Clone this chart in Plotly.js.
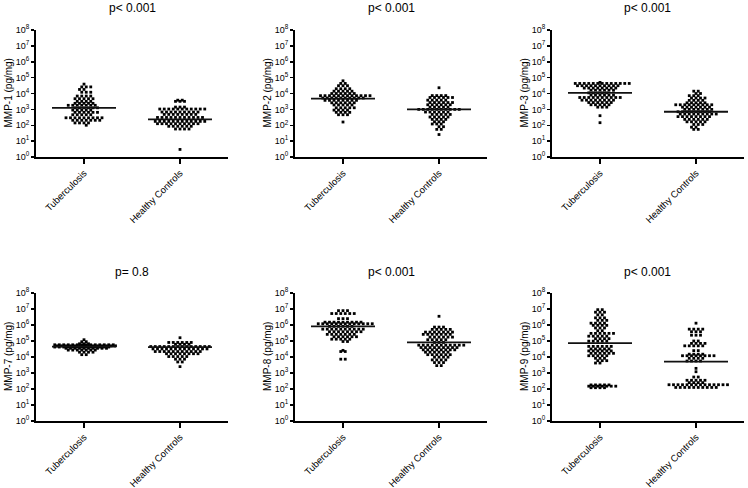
<!DOCTYPE html>
<html><head><meta charset="utf-8">
<script src="https://cdn.plot.ly/plotly-3.0.1.min.js"></script>
<style>html,body{margin:0;padding:0;background:#fff}</style>
</head><body><div id="chart" style="width:748px;height:488px"></div>
<script>
const groups = ["Tuberculosis", "Healthy Controls"];
const pTitles = ["p< 0.001", "p< 0.001", "p< 0.001", "p= 0.8", "p< 0.001", "p< 0.001"];
const yLabels = ["MMP-1 (pg/mg)", "MMP-2 (pg/mg)", "MMP-3 (pg/mg)", "MMP-7 (pg/mg)", "MMP-8 (pg/mg)", "MMP-9 (pg/mg)"];
const yTickVals = [1, 10, 100, 1000, 10000, 100000, 1000000, 10000000, 100000000];
const yTickText = ["10<sup>0</sup>", "10<sup>1</sup>", "10<sup>2</sup>", "10<sup>3</sup>", "10<sup>4</sup>", "10<sup>5</sup>", "10<sup>6</sup>", "10<sup>7</sup>", "10<sup>8</sup>"];

// values in pg/mg (rows of the scatter)
const mmp1_tb = [39000, 26000,26000,26000, 18000,18000, 12000,12000,12000, 6900,6900,6900,6900,
  4700,4700,4700,4700,4700, 3200,3200,3200,3200, 2400,2400,2400,2400,2400,
  1800,1800,1800,1800,1800,1800,1800, 1260,1260,1260,1260,1260,1260, 900,900,900,900,900,
  650,650,650,650,650,650, 460,460,460,460,460, 295,295,295,295,295,295,295,295,295,
  205,205,205,205,205,205,205, 140,140,140,140, 100];
const mmp1_hc = [3800,3800, 3200,3200,3200, 1400,1400,1400, 1050,1050,1050,1050,1050,1050,1050,1050,1050,1050,1050,
  680,680,680,680,680,680,680,680,680, 480,480,480,480,480,480,480,480,
  310,310,310,310,310,310,310,310,310,310,310, 175,175,175,175,175,175,175,175,175,175,175,175,
  125,125,125,125,125,125,125,125,125,125, 86,86,86,86,86,86, 58,58,58,58, 3];
const mmp2_tb = [63000, 43000,43000, 31000,31000,31000, 20000,20000,20000,20000, 14000,14000,14000,14000,14000,
  10000,10000,10000,10000,10000,10000, 7300,7300,7300,7300,7300,7300,7300,7300,7300,7300,7300,7300,
  5200,5200,5200,5200,5200,5200,5200,5200,5200,5200, 3700,3700,3700,3700,3700,3700,3700,3700,
  2600,2600,2600,2600,2600,2600, 1900,1900,1900,1900,1900, 1260,1260,1260,1260,1260,
  900,900,900,900, 650,650,650,650, 460,460,460, 160];
const mmp2_hc = [23000, 7400,7400,7400,7400, 5600,5600,5600,5600,5600,5600, 3800,3800,3800,3800,3800,
  2700,2700,2700,2700,2700,2700, 1950,1950,1950,1950,1950,1950, 1380,1380,1380,1380,1380,
  1000,1000,1000,1000,1000,1000,1000,1000,1000,1000, 680,680,680,680,680,680, 480,480,480,480,480,
  330,330,330,330,330, 234,234,234,234, 165,165,165, 120,120,120, 81,81, 55,55, 26];
const mmp3_tb = [50000, 43000,43000,43000,43000,43000,43000,43000,43000,43000,43000,43000,43000,43000,
  31000,31000,31000,31000,31000,31000,31000,31000,31000,31000, 22000,22000,22000,22000,22000,22000,22000,22000,
  16000,16000,16000,16000,16000,16000, 11000,11000,11000,11000,11000, 7900,7900,7900,7900,7900,7900,
  5600,5600,5600,5600,5600,5600,5600,5600,5600,5600, 3800,3800,3800,3800,3800,3800,3800,3800,
  2700,2700,2700,2700,2700,2700, 1950,1950,1950,1950,1950, 1380,1380,1380, 400, 145];
const mmp3_hc = [14000,14000, 10000,10000, 7300,7300,7300, 5200,5200,5200,5200, 3700,3700,3700,3700,
  2600,2600,2600,2600,2600, 1950,1950,1950,1950,1950,1950,1950,1950,1950, 1380,1380,1380,1380,1380,1380,1380,
  1000,1000,1000,1000,1000,1000,1000, 710,710,710,710,710,710,710,710, 510,510,510,510,510,510,510,510,510,
  350,350,350,350,350,350,350,350, 234,234,234,234,234,234, 165,165,165,165,165, 112,112,112, 76,76, 55,55];
const mmp7_tb = [120000, 90000,90000, 67000,67000,67000, 58000,58000,58000,58000,58000,58000,58000,58000,58000,58000,58000,58000,58000,58000,
  50000,50000,50000,50000,50000,50000,50000,50000,50000,50000,50000,50000,50000,50000,
  42000,42000,42000,42000,42000,42000,42000,42000,42000,42000,42000,42000,42000,
  35000,35000,35000,35000,35000,35000,35000,35000,35000,35000, 27000,27000,27000,27000,27000,27000,27000,
  20000,20000,20000,20000, 14000,14000];
const mmp7_hc = [160000, 81000,81000,81000,81000,81000,81000, 62000,62000,62000,62000,
  45000,45000,45000,45000,45000,45000,45000,45000,45000,45000,45000,45000,45000,45000,
  32000,32000,32000,32000,32000,32000,32000,32000,32000,32000,32000,32000,32000,
  22000,22000,22000,22000,22000,22000,22000,22000,22000,22000,22000, 16000,16000,16000,16000,16000,16000,16000,16000,
  10700,10700,10700,10700,10700, 7300,7300,7300, 4900,4900, 2500];
const mmp8_tb = [7900000,7900000,7900000, 5200000,5200000,5200000,5200000,5200000,5200000, 2500000,2500000,2500000,
  1500000,1500000,1500000,1500000,1500000,1500000,1500000,1500000,1500000,
  1200000,1200000,1200000,1200000,1200000,1200000,1200000,1200000,1200000,1200000,1200000,1200000,1200000,
  820000,820000,820000,820000,820000,820000, 550000,550000,550000,550000,550000,550000,550000,550000,550000,550000,
  380000,380000,380000,380000,380000,380000,380000,380000, 260000,260000,260000,260000,260000,260000,260000,
  185000,185000,185000,185000,185000,185000, 130000,130000,130000,130000,130000, 93000,93000,
  26000, 22000,22000, 7300,7300];
const mmp8_hc = [3500000, 740000,740000,740000, 530000,530000,530000,530000,530000, 360000,360000,360000,360000,360000,360000,360000,
  260000,260000,260000,260000,260000,260000,260000, 175000,175000,175000,175000,175000,175000,
  120000,120000,120000,120000,120000, 81000,81000,81000, 55000,55000,55000,55000,55000,55000,55000,55000,55000,55000,55000,
  39000,39000,39000,39000,39000,39000,39000,39000,39000, 28000,28000,28000,28000,28000,28000,28000,28000,
  20000,20000,20000,20000,20000,20000, 14000,14000,14000,14000,14000,14000, 9800,9800,9800,9800,
  6600,6600,6600,6600, 4500,4500,4500, 2900,2900];
const mmp9_tb = [9100000,9100000, 6300000,6300000,6300000, 4300000,4300000, 2800000,2800000,2800000, 1950000,1950000,1950000,
  1300000,1300000,1300000,1300000, 950000,950000,950000,950000, 650000,650000,650000, 440000,440000,
  300000,300000,300000,300000,300000,300000, 200000,200000,200000,200000,200000, 140000,140000,140000,140000,
  98000,98000,98000,98000,98000, 46000,46000,46000,46000,46000,46000, 32000,32000,32000,32000,32000,
  24000,24000,24000,24000,24000,24000, 17000,17000,17000,17000,17000,17000, 12000,12000,12000,12000,12000,
  8300,8300,8300, 5900,5900,5900, 4200,4200, 180,180,180,180,180, 150,150,150,150,150,150,150, 120,120,120,120];
const mmp9_hc = [1300000, 550000,550000,550000,550000, 380000,380000,380000, 230000,230000,230000, 100000,100000,
  71000,71000,71000,71000, 50000,50000,50000,50000,50000, 25000,25000, 15000,15000,15000,15000,
  12000,12000,12000,12000,12000,12000,12000,12000, 8300,8300,8300,8300, 5600,5600,5600,5600,
  1950, 1200, 560,560, 350,350,350,350,350, 250,250,250,250,
  185,185,185,185,185,185,185,185,185,185,185,185,185,185, 125,125,125,125,125,125,125,125,125,125];

const mmp1_median = [1260, 234];
const mmp2_median = [4700, 1000];
const mmp3_median = [11000, 710];
const mmp7_median = [45000, 42000];
const mmp8_median = [820000, 81000];
const mmp9_median = [74000, 5100];

const panels = [
  [mmp1_tb, mmp1_hc, mmp1_median], [mmp2_tb, mmp2_hc, mmp2_median], [mmp3_tb, mmp3_hc, mmp3_median],
  [mmp7_tb, mmp7_hc, mmp7_median], [mmp8_tb, mmp8_hc, mmp8_median], [mmp9_tb, mmp9_hc, mmp9_median]
];

const W = 748, H = 488;
const xPix = [[36, 228], [295, 487], [552, 744]];
const yPix = [[30, 157], [293, 421]];
const pxPerUnit = 96, pxPerDecade = 15.9;
const spacing = 4.5 / pxPerUnit; // x units per point in a row
const halfLine = 1 / 3;

// lay out equal values side by side, centred on the category; neighbouring rows staggered
function swarm(vals, center) {
  const counts = {};
  vals.forEach(v => counts[v] = (counts[v] || 0) + 1);
  const rows = Object.keys(counts).map(Number).sort((a, b) => b - a);
  const shift = {};
  let prevY = null, prevPhase = null, flip = 1;
  rows.forEach(v => {
    const yPx = Math.log10(v) * pxPerDecade;
    let phase = counts[v] % 2 === 1 ? 0 : 0.5;
    let s = 0;
    if (prevY !== null && Math.abs(prevY - yPx) < 3.2 && phase === prevPhase) {
      s = 0.5 * flip; flip = -flip; phase = 0.5 - phase;
    }
    shift[v] = s;
    prevY = yPx; prevPhase = phase;
  });
  const seen = {};
  return vals.map(v => {
    const i = seen[v] || 0; seen[v] = i + 1;
    return center + (i - (counts[v] - 1) / 2 + shift[v]) * spacing;
  });
}

const data = [];
const layout = {
  width: W, height: H, margin: {l: 0, r: 0, t: 0, b: 0},
  paper_bgcolor: '#fff', plot_bgcolor: '#fff', showlegend: false,
  font: {family: 'Liberation Sans, Arial, sans-serif', color: '#000'},
  annotations: []
};

panels.forEach((p, k) => {
  const col = k % 3, row = Math.floor(k / 3);
  const suf = k === 0 ? '' : String(k + 1);
  const xa = 'x' + suf, ya = 'y' + suf;
  [0, 1].forEach(g => {
    data.push({
      type: 'scatter', mode: 'markers', xaxis: xa, yaxis: ya,
      x: swarm(p[g], g), y: p[g], cliponaxis: false,
      marker: {symbol: 'square', size: 2.8, color: '#000'}, hoverinfo: 'y'
    });
    data.push({
      type: 'scatter', mode: 'lines', xaxis: xa, yaxis: ya,
      x: [g - halfLine, g + halfLine], y: [p[2][g], p[2][g]],
      line: {color: '#111', width: 1.8}, hoverinfo: 'skip'
    });
  });
  const xd = [xPix[col][0] / W, xPix[col][1] / W];
  const yd = [1 - yPix[row][1] / H, 1 - yPix[row][0] / H];
  layout['xaxis' + suf] = {
    domain: xd, anchor: ya, range: [-0.5, 1.5], showgrid: false, zeroline: false,
    showline: true, linecolor: '#000', linewidth: 2, ticks: 'outside', ticklen: 5,
    tickwidth: 1.5, tickcolor: '#000', tickvals: [0, 1], ticktext: groups, tickangle: -45,
    tickfont: {size: 9.5, color: '#000'}, fixedrange: true
  };
  layout['yaxis' + suf] = {
    domain: yd, anchor: xa, type: 'log', range: [0, 8], showgrid: false, zeroline: false,
    showline: true, linecolor: '#000', linewidth: 2, ticks: 'outside', ticklen: 3,
    tickwidth: 1.5, tickcolor: '#000', tickvals: yTickVals, ticktext: yTickText,
    tickfont: {size: 9, color: '#000'}, fixedrange: true
  };
  layout.annotations.push({
    xref: 'paper', yref: 'paper', x: (xd[0] + xd[1]) / 2, y: row === 0 ? 1 - 8 / H : 1 - 272 / H,
    text: pTitles[k], showarrow: false, xanchor: 'center', yanchor: 'middle',
    font: {size: 12, color: '#000'}
  });
  layout.annotations.push({
    xref: 'paper', yref: 'paper', x: (xPix[col][0] - 28) / W, y: (yd[0] + yd[1]) / 2,
    text: yLabels[k], showarrow: false, textangle: -90, xanchor: 'center', yanchor: 'middle',
    font: {size: 10, color: '#000'}
  });
});

Plotly.newPlot('chart', data, layout, {staticPlot: true, displayModeBar: false});
</script>
</body></html>
